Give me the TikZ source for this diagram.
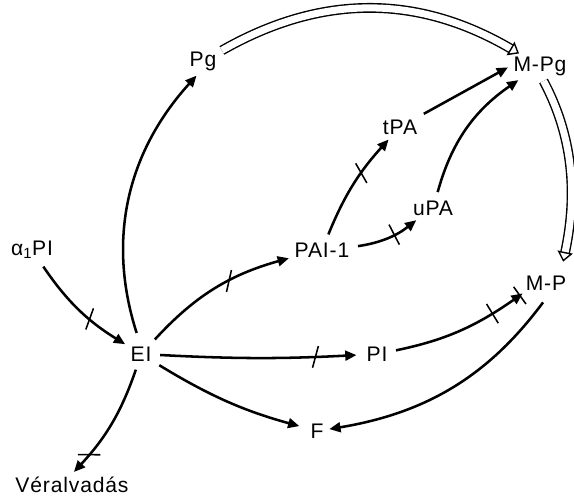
\documentclass[tikz,border=0pt]{standalone}
\usepackage{fontspec}
\newfontfamily\labfont[LetterSpace=4]{Liberation Sans}
\usetikzlibrary{arrows.meta,decorations.markings}

\begin{document}
\begin{tikzpicture}[
  x=0.025cm, y=-0.025cm,
  mol/.style={font=\labfont\fontsize{15}{18}\selectfont, inner sep=2pt},
  arrow/.style={-{Triangle[length=8pt,width=7pt]}, line width=1.8pt, shorten <=4pt, shorten >=2pt},
  conv/.style={double, double distance=5pt, line width=1pt,
               -{Triangle[open,length=7pt,width=11pt,line width=1pt]}, shorten <=2pt},
  cut/.style 2 args={postaction={decorate, decoration={markings,
      mark=at position #1 with {\draw[-, shorten <=0pt, shorten >=0pt, line width=1.1pt, rotate=#2]
        (0,-8pt) -- (0,8pt);}}}}]
\useasboundingbox (0,0) rectangle (574,498);
\node[mol] (pg) at (203,61) {Pg};
\node[mol] (mpg) at (540,66) {M-Pg};
\node[mol] (tpa) at (400,127) {tPA};
\node[mol] (upa) at (433,208) {uPA};
\node[mol] (pai) at (322,250) {PAI-1};
\node[mol] (a1pi) at (32,250) {α\textsubscript{1}PI};
\node[mol] (mp) at (546,283) {M-P};
\node[mol] (ei) at (141,354) {EI};
\node[mol] (pi) at (377,354) {PI};
\node[mol] (f) at (317,431) {F};
\node[mol] (ver) at (72,485) {Véralvadás};
\draw[conv] (pg) to[bend left=30] (mpg);
\draw[conv, shorten >=8pt] (mpg.-80) to[out=-62, in=78, looseness=0.95] (mp.35);
\draw[arrow, shorten <=8pt] (ei.95) to[bend left=30] (pg.-110);
\draw[arrow] (tpa) -- (mpg.west);
\draw[arrow] (upa) to[bend left=20] (mpg);
\draw[arrow, cut={0.62}{-25}] (pai) to[bend left=10] (tpa);
\draw[arrow, cut={0.6}{0}] (pai) to[bend right=15] (upa);
\draw[arrow, cut={0.62}{20}] (a1pi) to[bend right=12] (ei);
\draw[arrow, cut={0.6}{-40}] (ei) to[bend left=16] (pai);
\draw[arrow, shorten >=5pt, cut={0.77}{-17}] (ei) to[bend right=3] (pi);
\draw[arrow, shorten >=6pt] (ei) to[bend right=8] (f);
\draw[arrow, cut={0.8}{39}] (ei) to[bend left=12] (ver.north);
\draw[arrow, -{Triangle[length=8pt,width=7pt,sep=-3pt]Bar[width=15pt,line width=1.1pt]},
      cut={0.75}{0}] (pi) to[bend right=12] (mp.south west);
\draw[arrow, shorten <=8pt] (mp.-70) to[bend left=22] (f);
\end{tikzpicture}
\end{document}
